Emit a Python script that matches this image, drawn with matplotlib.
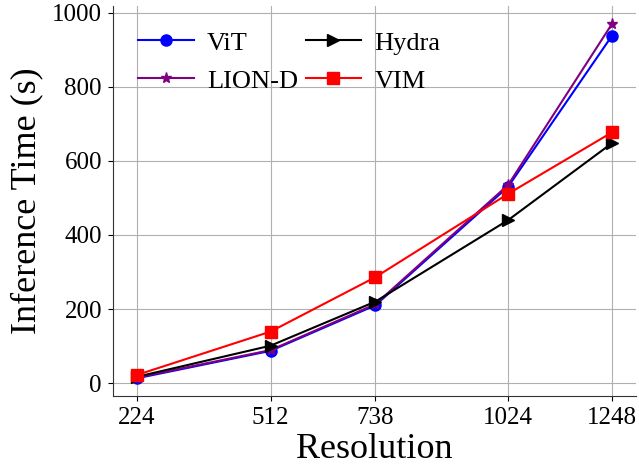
import matplotlib
matplotlib.use('Agg')
import matplotlib.pyplot as plt

plt.rcParams['font.family'] = ['Liberation Serif', 'DejaVu Serif']
plt.rcParams['mathtext.fontset'] = 'stix'

resolution = [224, 512, 738, 1024, 1248]
vit = [13, 87, 210, 530, 938]
lion_d = [15, 89, 213, 535, 970]
hydra = [17, 101, 220, 440, 648]
vim = [22, 139, 286, 511, 677]

fig, ax = plt.subplots(figsize=(6.39, 4.67), dpi=100)
fig.subplots_adjust(left=0.177, right=0.995, bottom=0.152, top=0.987)

ax.plot(resolution, vit, '-o', color='blue', linewidth=1.5, markersize=8, label='ViT')
ax.plot(resolution, lion_d, '-*', color='purple', linewidth=1.5, markersize=8, label='LION-D')
ax.plot(resolution, hydra, '->', color='black', linewidth=1.5, markersize=8, label='Hydra')
ax.plot(resolution, vim, '-s', color='red', linewidth=1.5, markersize=8, label='VIM')

ax.set_xticks(resolution)
ax.set_xticklabels([str(r) for r in resolution])
ax.tick_params(labelsize=18, pad=4.5)
ax.set_xlabel('Resolution', fontsize=26, labelpad=3)
ax.set_ylabel('Inference Time (s)', fontsize=26, labelpad=6)
ax.grid(True, color='#b0b0b0', linewidth=0.8)
ax.spines['top'].set_visible(False)
ax.spines['right'].set_visible(False)
ax.spines['left'].set_color('#333333')
ax.spines['bottom'].set_color('#333333')

ax.legend(loc='upper left', ncol=2, fontsize=19, frameon=False,
          handlelength=2.1, columnspacing=0.3, handletextpad=0.5,
          labelspacing=0.55, borderaxespad=0.55)

plt.savefig('out.png', dpi=100)
